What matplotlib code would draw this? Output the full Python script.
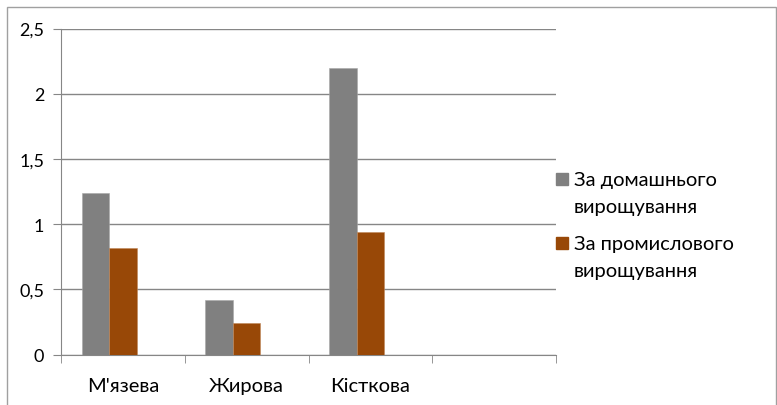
import numpy as np
import matplotlib
matplotlib.use('Agg')
import matplotlib.pyplot as plt
from matplotlib.patches import Rectangle

plt.rcParams['font.family'] = ['Lato', 'Noto Sans', 'DejaVu Sans']

# Дані
категорії = ["М'язева", "Жирова", "Кісткова", ""]
домашні = [1.24, 0.42, 2.20]
промислові = [0.82, 0.24, 0.94]
підписи_легенди = ["За домашнього\nвирощування", "За промислового\nвирощування"]
кольори = ['#808080', '#984807']
y_ticks = [0, 0.5, 1, 1.5, 2, 2.5]
y_labels = ['0', '0,5', '1', '1,5', '2', '2,5']

fig = plt.figure(figsize=(7.77, 4.06), dpi=100)
ax = fig.add_axes([61/777, 1 - 355.5/406, 495/777, 326/406])

# три серії у групі (третя порожня), проміжок 150%
w = 1 / 4.5
x = np.arange(len(домашні))
ax.bar(x - w, домашні, width=w, color=кольори[0], edgecolor='#a6a6a6', linewidth=0.4, zorder=3)
ax.bar(x, промислові, width=w, color=кольори[1], edgecolor='#c0875a', linewidth=0.4, zorder=3)

ax.set_xlim(-0.5, len(категорії) - 0.5)
ax.set_ylim(0, 2.5)
ax.set_yticks(y_ticks)
ax.set_yticklabels(y_labels)
ax.set_xticks(x)
ax.set_xticklabels(категорії[:3])
ax.set_xticks(np.arange(len(категорії) + 1) - 0.5, minor=True)

ax.grid(axis='y', color='#868686', linewidth=1, zorder=0)
for s in ['top', 'right']:
    ax.spines[s].set_visible(False)
for s in ['left', 'bottom']:
    ax.spines[s].set_color('#868686')
ax.tick_params(axis='y', length=6, color='#868686', labelsize=13, pad=6)
ax.tick_params(axis='x', which='major', length=0, labelsize=14.5, pad=16)
ax.tick_params(axis='x', which='minor', length=6, color='#868686')

# легенда
for i, (лейбл, колір) in enumerate(zip(підписи_легенди, кольори)):
    y0 = 1 - (180 + i * 64) / 406
    fig.add_artist(Rectangle((556/777, y0 - 6/406), 12/777, 12/406,
                             transform=fig.transFigure, color=колір))
    fig.text(574/777, y0 + 8/406, лейбл, fontsize=14.5, va='top', ha='left',
             linespacing=1.75)

# рамка діаграми
fig.add_artist(Rectangle((7/777, -0.05), 0.99, 1 - 8/406 + 0.05, transform=fig.transFigure,
                         fill=False, edgecolor='#a0a0a0', linewidth=1))

fig.savefig('out.png', dpi=100)
